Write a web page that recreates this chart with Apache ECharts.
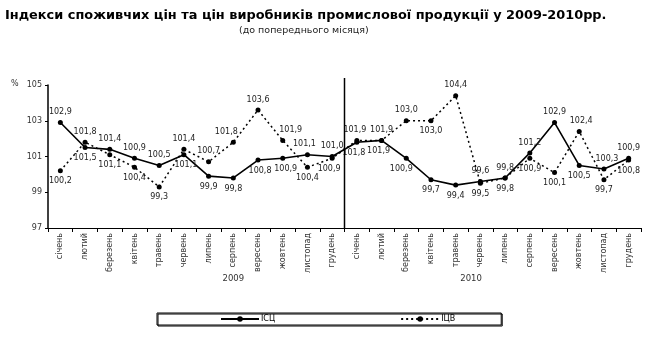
<!DOCTYPE html>
<html>
<head>
<meta charset="utf-8">
<script src="https://cdn.jsdelivr.net/npm/echarts@6/dist/echarts.min.js"></script>
<style>html,body{margin:0;padding:0;background:#fff;}#c{width:650px;height:338px;}</style>
</head>
<body>
<div id="c"></div>
<script>
const months = ['січень','лютий','березень','квітень','травень','червень','липень','серпень','вересень','жовтень','листопад','грудень'];
const years = ['2009','2010'];
const categories = years.flatMap(y => months.map(m => m + '|' + y));
const cpi = [102.9,101.5,101.4,100.9,100.5,101.1,99.9,99.8,100.8,100.9,101.1,101.0,
             101.8,101.9,100.9,99.7,99.4,99.6,99.8,101.2,102.9,100.5,100.3,100.9];
const ppi = [100.2,101.8,101.1,100.4,99.3,101.4,100.7,101.8,103.6,101.9,100.4,100.9,
             101.9,101.9,103.0,103.0,104.4,99.5,99.8,100.9,100.1,102.4,99.7,100.8];
const yTicks = [97, 99, 101, 103, 105];
const seriesNames = ['ІСЦ', 'ІЦВ'];
const cpiLabelPos = ['top','bottom','top','top','top','bottom','bottom','bottom','bottom','bottom','top','top',
                     'bottom','bottom','bottom','bottom','bottom','top','top','top','top','bottom','top','top'];
const ppiLabelPos = ['bottom','top','bottom','bottom','bottom','top','top','top','top','top','bottom','bottom',
                     'top','top','top','bottom','top','bottom','bottom','bottom','bottom','top','bottom','bottom'];
const cpiLabelShift = [0,0,0,0,0,2,0,0,2,3,-3,0, -3,-3,-5,0,0,0,0,0,0,0,3,0];
const ppiLabelShift = [0,0,0,0,0,0,0,-7,0,8,0,-3, -2,0,0,0,0,0,0,0,0,2,0,0];

const fmt = v => v.toFixed(1).replace('.', ',');
const FONT = 'DejaVu Sans';

const chart = echarts.init(document.getElementById('c'), null, {renderer: 'canvas'});
function mk(vals, pos, shift) {
  return vals.map((v, i) => ({value: v, label: {position: pos[i], offset: [shift[i], 0]}}));
}
const option = {
  animation: false,
  backgroundColor: '#fff',
  title: [
    {text: 'Індекси споживчих цін та цін виробників промислової продукції у 2009-2010рр.', left: 5, top: 9, padding: 0,
     textStyle: {fontFamily: FONT, fontWeight: 'bold', fontSize: 12.9, color: '#000'}},
    {text: '(до попереднього місяця)', left: 239, top: 26, padding: 0,
     textStyle: {fontFamily: FONT, fontWeight: 'normal', fontSize: 9.5, color: '#222'}}
  ],
  grid: {left: 48, right: 9, top: 85, bottom: 110},
  legend: {
    left: 157, top: 313, padding: [2, 46, 2, 63], itemGap: 125,
    itemWidth: 38, itemHeight: 7,
    borderColor: '#000', borderWidth: 1,
    shadowColor: '#000', shadowOffsetX: 1, shadowOffsetY: 1, shadowBlur: 0,
    textStyle: {fontFamily: FONT, fontSize: 8, color: '#000', padding: [0, 0, 0, -3]},
    data: seriesNames
  },
  xAxis: {
    type: 'category', data: categories, boundaryGap: true,
    axisLine: {lineStyle: {color: '#000', width: 1}},
    axisTick: {show: true, length: 4, lineStyle: {color: '#000'}},
    axisLabel: {rotate: 90, interval: 0, fontFamily: FONT, fontSize: 8, color: '#333', margin: 5,
                formatter: v => v.split('|')[0]},
    splitLine: {show: false}
  },
  yAxis: {
    type: 'value', min: 97, max: 105, interval: 2,
    axisLine: {show: true, lineStyle: {color: '#000', width: 1.5}},
    axisTick: {show: true, length: 3, lineStyle: {color: '#000'}},
    axisLabel: {fontFamily: FONT, fontSize: 8, color: '#333', margin: 6,
                formatter: v => yTicks.includes(v) ? String(v) : ''},
    splitLine: {show: false}
  },
  series: [
    {name: seriesNames[0], type: 'line', data: mk(cpi, cpiLabelPos, cpiLabelShift),
     symbol: 'circle', symbolSize: 5, itemStyle: {color: '#000'},
     lineStyle: {color: '#000', width: 1.6, type: 'solid'},
     label: {show: true, fontFamily: FONT, fontSize: 8, color: '#222', distance: 4,
             formatter: p => fmt(p.value)}},
    {name: seriesNames[1], type: 'line', data: mk(ppi, ppiLabelPos, ppiLabelShift),
     symbol: 'circle', symbolSize: 5, itemStyle: {color: '#000'},
     lineStyle: {color: '#000', width: 1.5, type: [2, 3]},
     label: {show: true, fontFamily: FONT, fontSize: 8, color: '#222', distance: 4,
             formatter: p => fmt(p.value)}}
  ]
};
chart.setOption(option);

const px = i => chart.convertToPixel({xAxisIndex: 0}, categories[i]);
const py = v => chart.convertToPixel({yAxisIndex: 0}, v);
const sepX = (px(11) + px(12)) / 2;
const yTop = py(105), yBot = py(97);
chart.setOption({
  graphic: [
    {type: 'line', shape: {x1: sepX, y1: yTop - 7, x2: sepX, y2: yBot}, style: {stroke: '#000', lineWidth: 1.5}, z: 10},
    {type: 'text', x: 11, y: yTop - 5, style: {text: '%', fontFamily: FONT, fontSize: 8, fill: '#333'}},
    {type: 'text', x: px(7), y: 274, style: {text: years[0], fontFamily: FONT, fontSize: 8.5, fill: '#333', align: 'center'}},
    {type: 'text', x: (px(16) + px(17)) / 2 + 3, y: 274, style: {text: years[1], fontFamily: FONT, fontSize: 8.5, fill: '#333', align: 'center'}}
  ]
});
</script>
</body>
</html>
